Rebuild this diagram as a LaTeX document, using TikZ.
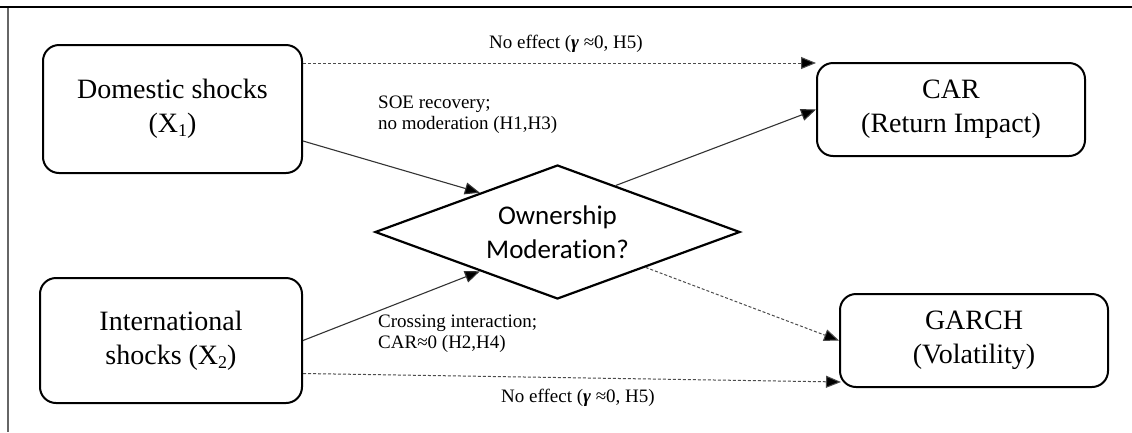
\documentclass[tikz,border=0pt]{standalone}
\usepackage{fontspec}
\setmainfont{Liberation Serif}
\newfontfamily\calib[Ligatures=NoCommon]{Carlito}
\usetikzlibrary{arrows.meta,shapes.geometric,calc}
\newcommand{\subidx}[1]{\raisebox{-0.3ex}{\fontsize{18}{18}\selectfont #1}}
\begin{document}
\begin{tikzpicture}[x=1pt,y=-1pt,
  box/.style={draw, line width=2pt, rounded corners=16pt, align=center,
    inner sep=0pt, font=\fontsize{28}{34}\selectfont},
  lbl/.style={align=left, inner sep=0pt, font=\fontsize{19}{21}\selectfont},
  solidarrow/.style={draw=black!80, line width=1.1pt, -{Triangle[length=15pt,width=12pt,fill=black]}},
  dasharrow/.style={draw=black!70, line width=1pt, dash pattern=on 3pt off 2pt, -{Triangle[length=15pt,width=12pt,fill=black]}}
]
\useasboundingbox (0,0) rectangle (1132,432);
\fill[white] (0,0) rectangle (1132,432);
% frame
\draw[line width=2pt] (0,7) -- (1132,7);
\draw[black!60, line width=1.3pt] (8,8) -- (8,432);

% nodes
\node[box, minimum width=259pt, minimum height=128pt] (dom) at (172.5,109) {Domestic shocks\\(X\subidx{1})};
\node[box, minimum width=262pt, minimum height=125pt] (int) at (171,340.5) {International\\shocks (X\subidx{2})};
\node[box, minimum width=268pt, minimum height=93pt] (car) at (951,109.5) {CAR\\(Return Impact)};
\node[box, minimum width=268pt, minimum height=93pt] (garch) at (974,340.5) {GARCH\\(Volatility)};
\node[draw, diamond, aspect=2.72, line width=2.2pt, minimum width=365pt, minimum height=134pt, inner sep=0pt,
  align=center, font=\calib\fontsize{27}{34}\selectfont] (dia) at (557.5,232) {Ownership\\Moderation?};

% coordinates
\coordinate (d1) at ($(dom.east)+(0,32)$);
\coordinate (t1) at ($(dia.west)!0.577!(dia.north)$);
\coordinate (s2) at ($(dia.north)!0.317!(dia.east)$);
\coordinate (t3) at ($(dia.west)!0.577!(dia.south)$);
\coordinate (s4) at ($(dia.east)!0.52!(dia.south)$);
\coordinate (s5) at ($(dom.north east)+(0,19)$);
\coordinate (e5) at (car.west |- s5);
\coordinate (s6) at ($(int.east)+(0,33)$);
\coordinate (e6) at ($(garch.south west)+(2,-6)$);

% connectors
\draw[solidarrow] (d1) -- (t1);
\draw[solidarrow] (s2) -- (car.west);
\draw[solidarrow] (int.east) -- (t3);
\draw[dasharrow] (s4) -- (garch.west);
\draw[dasharrow] (s5) -- (e5);
\draw[dasharrow] (s6) -- (e6);

% labels
\node[lbl] (l1) at (566,44) {No effect ({\bfseries\itshape γ} ≈0, H5)};
\node[lbl, anchor=west] (l2) at (378,115) {SOE recovery;\\no moderation (H1,H3)};
\node[lbl, anchor=west] (l3) at (378,334) {Crossing interaction;\\CAR≈0 (H2,H4)};
\node[lbl] (l4) at (578,398) {No effect ({\bfseries\itshape γ} ≈0, H5)};
\end{tikzpicture}
\end{document}
